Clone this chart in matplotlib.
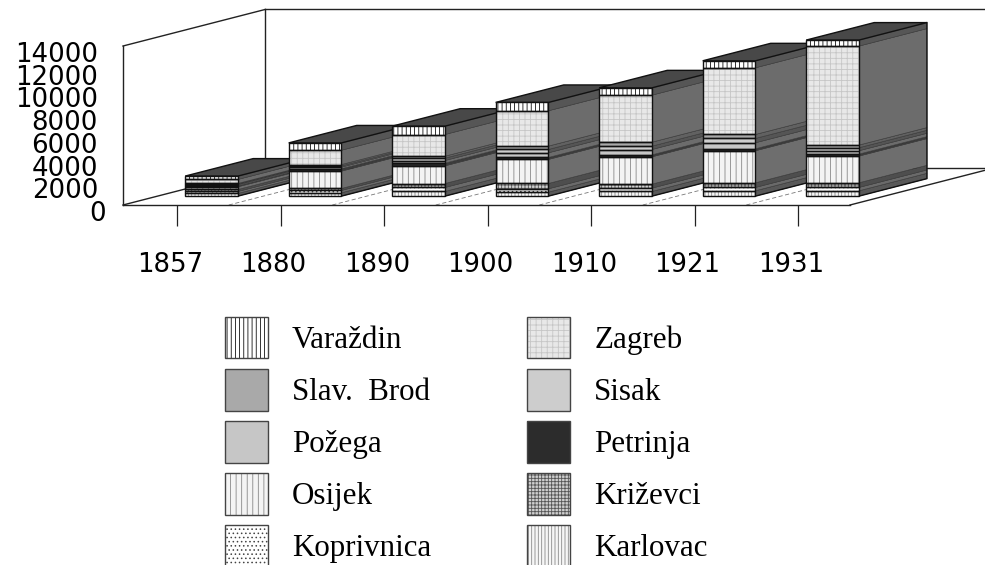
import matplotlib
matplotlib.use("Agg")
import numpy as np
import matplotlib.pyplot as plt
from matplotlib.patches import Patch
from matplotlib.legend_handler import HandlerTuple
from matplotlib.transforms import ScaledTranslation

years = ['1857', '1880', '1890', '1900', '1910', '1921', '1931']
yticks = [0, 2000, 4000, 6000, 8000, 10000, 12000, 14000]

karlovac   = [235, 295, 410, 350, 410, 470, 470]
koprivnica = [175, 205, 350, 295, 295, 295, 295]
krizevci   = [175, 175, 350, 470, 350, 410, 410]
osijek     = [235, 1525, 1555, 2115, 2405, 2820, 2350]
petrinja   = [90, 205, 235, 175, 175, 175, 175]
pozega     = [90, 145, 235, 410, 470, 530, 295]
sisak      = [60, 115, 205, 295, 295, 380, 265]
slav_brod  = [60, 115, 175, 295, 350, 350, 235]
zagreb     = [350, 1260, 1910, 3110, 4140, 5870, 8715]
varazdin   = [295, 645, 735, 735, 645, 615, 530]

# stacking order, bottom to top: name, values, face, hatch colour, hatch, side shade
stack = [
    ('Karlovac', karlovac, '#f6f6f6', '#8a8a8a', '|||||', '#585858'),
    ('Koprivnica', koprivnica, '#ffffff', '#444444', '....', '#6a6a6a'),
    ('Križevci', krizevci, '#cfcfcf', '#555555', '+++++', '#4e4e4e'),
    ('Osijek', osijek, '#f4f4f4', '#888888', '|||', '#6e6e6e'),
    ('Petrinja', petrinja, '#2c2c2c', '#2c2c2c', None, '#3c3c3c'),
    ('Požega', pozega, '#c6c6c6', '#c6c6c6', None, '#6c6c6c'),
    ('Sisak', sisak, '#cdcdcd', '#bbbbbb', None, '#555555'),
    ('Slav.  Brod', slav_brod, '#a9a9a9', '#a9a9a9', None, '#616161'),
    ('Zagreb', zagreb, '#e8e8e8', '#c6c6c6', '+++', '#6c6c6c'),
    ('Varaždin', varazdin, '#ffffff', '#111111', '||||', '#565656'),
]
legend_order = ['Varaždin', 'Slav.  Brod', 'Požega', 'Osijek', 'Koprivnica',
                'Zagreb', 'Sisak', 'Petrinja', 'Križevci', 'Karlovac']

plt.rcParams['font.family'] = ['DejaVu Sans']
plt.rcParams['hatch.linewidth'] = 0.6

W, H = 985, 565
fig = plt.figure(figsize=(W / 100, H / 100), dpi=100, facecolor='white')
ax = fig.add_axes([123 / W, (H - 205) / H, 727 / W, 159 / H])
ax.set_xlim(-0.522, 6.502)
ax.set_ylim(0, 14000)

DX, DV = 1.372, 3214     # full floor depth in data units
FRONT, BACK = 0.243, 0.722
BAR_W = 0.51


def proj(x, v, d):
    return x + d * DX, v + d * DV


x0, x1 = ax.get_xlim()
ymax = ax.get_ylim()[1]
frame = dict(color='#222222', lw=1.0, clip_on=False, zorder=1)
# back wall and floor edges
for a, b in [((x0, 0, 0), (x0, 0, 1)), ((x0, ymax, 0), (x0, ymax, 1)),
             ((x0, 0, 1), (x0, ymax, 1)), ((x0, ymax, 1), (x1, ymax, 1)),
             ((x1, 0, 0), (x1, 0, 1)), ((x0, 0, 1), (x1, 0, 1))]:
    p, q = proj(*a), proj(*b)
    ax.plot([p[0], q[0]], [p[1], q[1]], **frame)

# floor separators
for i in range(len(years) - 1):
    p, q = proj(i + 0.5, 0, 0), proj(i + 0.5, 0, 1)
    ax.plot([p[0], q[0]], [p[1], q[1]], color='#777777', lw=0.6, ls=(0, (5, 3)), zorder=1)

for i in range(len(years)):
    z = 2 + i
    bottom = 0
    xl, xr = i - BAR_W / 2, i + BAR_W / 2
    for name, vals, fc, hc, hatch, shade in stack:
        v = vals[i]
        # side face
        pts = [proj(xr, bottom, FRONT), proj(xr, bottom, BACK),
               proj(xr, bottom + v, BACK), proj(xr, bottom + v, FRONT)]
        ax.fill(*zip(*pts), facecolor=shade, edgecolor='#333333', lw=0.4, clip_on=False, zorder=z)
        # front face
        fx, fb = proj(i, bottom, FRONT)
        ax.bar(fx, v, BAR_W, bottom=fb, color=fc, edgecolor=hc, hatch=hatch, lw=0,
               clip_on=False, zorder=z + 0.1)
        ax.bar(fx, v, BAR_W, bottom=fb, fill=False, edgecolor='#111111', lw=1.0,
               clip_on=False, zorder=z + 0.2)
        bottom += v
    # top face and outer side outline
    pts = [proj(xl, bottom, FRONT), proj(xl, bottom, BACK),
           proj(xr, bottom, BACK), proj(xr, bottom, FRONT)]
    ax.fill(*zip(*pts), facecolor='#484848', edgecolor='#111111', lw=1.0, clip_on=False, zorder=z)
    pts = [proj(xr, 0, FRONT), proj(xr, 0, BACK), proj(xr, bottom, BACK)]
    ax.plot(*zip(*pts), color='#111111', lw=1.0, clip_on=False, zorder=z + 0.05)

# axes, ticks
for s in ('top', 'right'):
    ax.spines[s].set_visible(False)
for s in ('left', 'bottom'):
    ax.spines[s].set_linewidth(1.0)
    ax.spines[s].set_color('#222222')
ax.set_xticks(range(len(years)), years)
ax.set_yticks(yticks, [str(t) for t in yticks])
ax.tick_params(axis='x', length=15, width=0.9, pad=19, labelsize=18.7, color='#222222')
ax.tick_params(axis='y', length=0, pad=18, labelsize=18.7)
for lab in ax.get_xticklabels():
    lab.set_transform(lab.get_transform() + ScaledTranslation(-7 / 100, 0, fig.dpi_scale_trans))
for lab, t in zip(ax.get_yticklabels(), yticks):
    sx = 8 if t == 0 else 0
    lab.set_transform(lab.get_transform() + ScaledTranslation(sx / 100, -6 / 100, fig.dpi_scale_trans))

# legend
by_name = {s[0]: s for s in stack}
handles = []
for n in legend_order:
    _, _, fc, hc, hatch, _ = by_name[n]
    handles.append((Patch(facecolor=fc, edgecolor=hc, hatch=hatch, lw=0),
                    Patch(fill=False, edgecolor='#444444', lw=1.0)))
ax.legend(handles, legend_order, handler_map={tuple: HandlerTuple(ndivide=1, pad=0)},
          ncols=2, loc='upper left', bbox_to_anchor=(225 / W, (H - 317) / H),
          bbox_transform=fig.transFigure, frameon=False, borderpad=0, borderaxespad=0,
          prop={'family': 'Liberation Serif', 'size': 22.3},
          handlelength=1.39, handleheight=1.68, handletextpad=0.77,
          labelspacing=0.345, columnspacing=3.1)

fig.savefig('out.png', dpi=100)
